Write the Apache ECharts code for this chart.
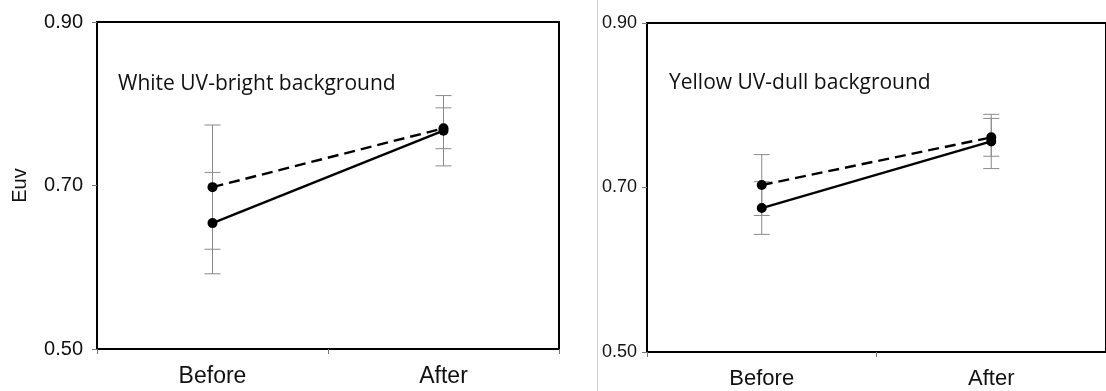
<!DOCTYPE html>
<html>
<head>
<meta charset="utf-8">
<script src="https://cdn.jsdelivr.net/npm/echarts@6/dist/echarts.min.js"></script>
<style>
  html, body { margin: 0; padding: 0; background: #fff; }
  #chart { width: 1106px; height: 391px; }
</style>
</head>
<body>
<div id="chart"></div>
<script>
// ---- data ----
const categories = ['Before', 'After'];
const yTickMin = 0.5, yTickMax = 0.9, yTickStep = 0.2;

const leftSolid = [0.654, 0.767];
const leftSolidErr = [0.062, 0.043];
const leftDashed = [0.698, 0.770];
const leftDashedErr = [0.076, 0.025];

const rightSolid = [0.675, 0.756];
const rightSolidErr = [0.032, 0.033];
const rightDashed = [0.703, 0.761];
const rightDashedErr = [0.037, 0.023];

const leftNote = 'White UV-bright background';
const rightNote = 'Yellow UV-dull background';
const yName = 'Euv';

// ---- build ----
const AX = 'Liberation Sans, Arial, sans-serif';

function errData(vals, errs) {
  return vals.map((v, i) => [i, v - errs[i], v + errs[i]]);
}

function errRender(params, api) {
  const x = api.value(0);
  const lo = api.coord([x, api.value(1)]);
  const hi = api.coord([x, api.value(2)]);
  const w = 8;
  const style = { stroke: '#8a8a8a', lineWidth: 1 };
  return {
    type: 'group',
    children: [
      { type: 'line', shape: { x1: hi[0], y1: hi[1], x2: lo[0], y2: lo[1] }, style },
      { type: 'line', shape: { x1: hi[0] - w, y1: hi[1], x2: hi[0] + w, y2: hi[1] }, style },
      { type: 'line', shape: { x1: lo[0] - w, y1: lo[1], x2: lo[0] + w, y2: lo[1] }, style }
    ]
  };
}

function xAxisCfg(gi, fs) {
  return {
    type: 'category', gridIndex: gi, data: categories, boundaryGap: true,
    axisLine: { show: true, lineStyle: { color: '#000', width: 2 } },
    axisTick: { show: true, alignWithLabel: false, length: 5, lineStyle: { color: '#777', width: 1 } },
    axisLabel: { color: '#111', fontFamily: AX, fontSize: fs, margin: 16 },
    splitLine: { show: false }
  };
}

function yAxisCfg(gi, fs, margin, withName) {
  const cfg = {
    type: 'value', gridIndex: gi, min: yTickMin, max: yTickMax, interval: yTickStep,
    axisLine: { show: true, lineStyle: { color: '#000', width: 2 } },
    axisTick: { show: true, inside: false, length: 5, lineStyle: { color: '#777', width: 1 } },
    axisLabel: { color: '#111', fontFamily: AX, fontSize: fs, margin: margin,
                 formatter: v => v.toFixed(2) },
    splitLine: { show: false }
  };
  if (withName) {
    Object.assign(cfg, {
      name: yName, nameLocation: 'middle', nameRotate: 90, nameGap: 67,
      nameTextStyle: { color: '#111', fontFamily: AX, fontSize: 20 }
    });
  }
  return cfg;
}

function lineSeries(gi, vals, dashed) {
  return {
    type: 'line', xAxisIndex: gi, yAxisIndex: gi, data: vals,
    symbol: 'circle', symbolSize: 10, z: 5,
    itemStyle: { color: '#000' },
    lineStyle: { color: '#000', width: 2.4, type: dashed ? [11, 6] : 'solid' },
    animation: false
  };
}

function errSeries(gi, vals, errs) {
  return {
    type: 'custom', xAxisIndex: gi, yAxisIndex: gi, z: 2,
    data: errData(vals, errs), renderItem: errRender, animation: false
  };
}

const chart = echarts.init(document.getElementById('chart'), null, { renderer: 'canvas' });
chart.setOption({
  backgroundColor: '#fff',
  animation: false,
  grid: [
    { left: 97, top: 22, width: 462, height: 327, show: true, borderColor: '#000', borderWidth: 2, containLabel: false },
    { left: 647, top: 23, width: 467, height: 329, show: true, borderColor: '#000', borderWidth: 2, containLabel: false }
  ],
  xAxis: [xAxisCfg(0, 23), xAxisCfg(1, 22)],
  yAxis: [yAxisCfg(0, 20, 14, true), yAxisCfg(1, 18, 10, false)],
  series: [
    errSeries(0, leftDashed, leftDashedErr),
    errSeries(0, leftSolid, leftSolidErr),
    lineSeries(0, leftDashed, true),
    lineSeries(0, leftSolid, false),
    errSeries(1, rightDashed, rightDashedErr),
    errSeries(1, rightSolid, rightSolidErr),
    lineSeries(1, rightDashed, true),
    lineSeries(1, rightSolid, false)
  ],
  graphic: [
    { type: 'line', shape: { x1: 597.5, y1: 0, x2: 597.5, y2: 391 }, style: { stroke: '#d0d0d0', lineWidth: 1 } },
    { type: 'text', left: 118, top: 74, style: { text: leftNote, fontFamily: 'Open Sans, sans-serif', fontSize: 21, fill: '#111' } },
    { type: 'text', left: 669, top: 73, style: { text: rightNote, fontFamily: 'Open Sans, sans-serif', fontSize: 21, fill: '#111' } }
  ]
});
</script>
</body>
</html>
